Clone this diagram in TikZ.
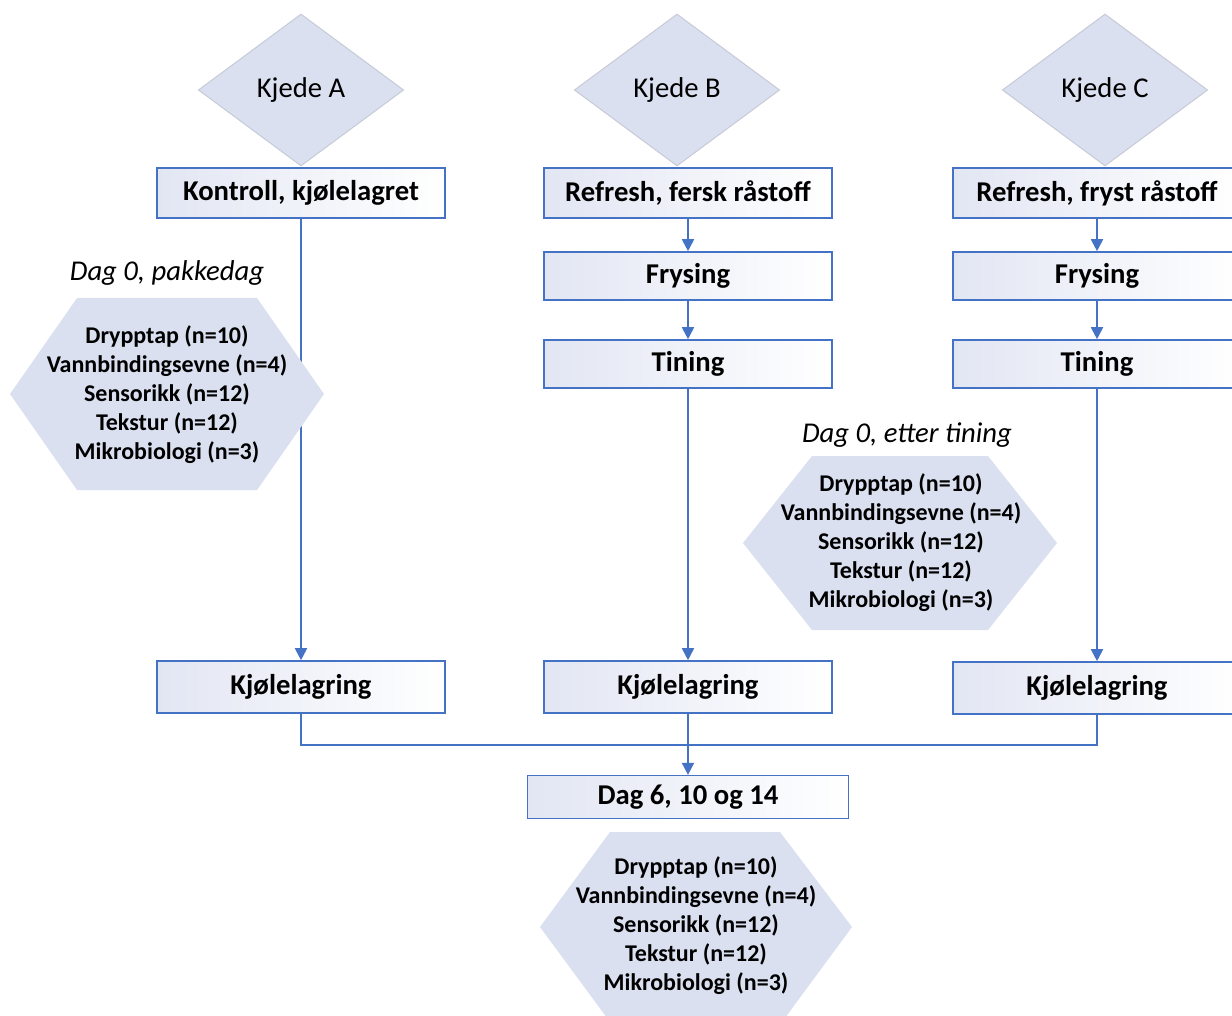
\documentclass[tikz,border=0pt]{standalone}
\usepackage{fontspec}
\setmainfont{Carlito}
\usepackage{tikz}
\usetikzlibrary{arrows.meta}
\usetikzlibrary{shapes.geometric}
\usetikzlibrary{positioning}
\definecolor{flowblue}{HTML}{4472C4}
\definecolor{lavender}{HTML}{DAE0F0}
\definecolor{boxshade}{HTML}{E2E6F3}
\definecolor{diagrey}{HTML}{C8CCD8}
\tikzset{
  % Filled triangle tips for the flow
  >={Triangle[length=9pt,width=9pt]},
  line/.style={draw=flowblue, line width=1.4pt, ->},
  link/.style={draw=flowblue, line width=1.4pt},
  hexfill/.style={fill=lavender}
}

\begin{document}
\begin{tikzpicture}[x=0.75pt, y=-0.75pt]
    % Define styles
    \tikzstyle{chain} = [diamond, draw=diagrey, line width=0.8pt, fill=lavender, minimum width=154pt, minimum height=114pt, inner sep=0pt, font=\fontsize{21.5}{26}\selectfont]
    \tikzstyle{block} = [rectangle, draw=flowblue, line width=1.2pt, left color=boxshade, right color=white, minimum width=216pt, minimum height=37.5pt, font=\fontsize{21.5}{26}\selectfont\bfseries]
    \tikzstyle{tests} = [align=center, inner sep=0pt, font=\fontsize{18}{21.75}\selectfont\bfseries]
    \tikzstyle{day} = [font=\fontsize{21.5}{26}\selectfont\itshape]

    \clip (0,0) rectangle (1232,1016);

    % Place nodes
    \node [chain] (kjedeA) at (301,90) {Kjede A};
    \node [chain] (kjedeB) at (677,90) {Kjede B};
    \node [chain] (kjedeC) at (1105,90) {Kjede C};

    \node [block] (kontroll) at (301,193) {Kontroll, kjølelagret};
    \node [block] (fersk) at (688,193) {Refresh, fersk råstoff};
    \node [block] (fryst) at (1097,193) {Refresh, fryst råstoff};
    \node [block, minimum height=36pt] (frysB) at (688,276) {Frysing};
    \node [block, minimum height=36pt] (frysC) at (1097,276) {Frysing};
    \node [block, minimum height=36pt] (tinB) at (688,364) {Tining};
    \node [block, minimum height=36pt] (tinC) at (1097,364) {Tining};
    \node [block, minimum height=39pt] (lagerA) at (301,687) {Kjølelagring};
    \node [block, minimum height=39pt] (lagerB) at (688,687) {Kjølelagring};
    \node [block, minimum height=39pt] (lagerC) at (1097,688) {Kjølelagring};
    \node [block, minimum width=241pt, minimum height=32pt] (dag) at (688,797) {Dag 6, 10 og 14};
    \coordinate (samle) at (688,745);

    % Draw edges
    \path [line] (kontroll) -- (lagerA);
    \path [line] (fersk) -- (frysB);
    \path [line] (frysB) -- (tinB);
    \path [line] (tinB) -- (lagerB);
    \path [line] (fryst) -- (frysC);
    \path [line] (frysC) -- (tinC);
    \path [line] (tinC) -- (lagerC);
    \path [link] (lagerA) |- (samle);
    \path [link] (lagerC) |- (samle);
    \path [line] (lagerB) -- (dag);

    % Measurements
    \node [day] (pakkedag) at (167,273) {Dag 0, pakkedag};
    \node [day] (etter) at (907,435) {Dag 0, etter tining};

    \fill [hexfill] (167,394) +(-157,0) -- +(-90,-96) -- +(90,-96) -- +(157,0) -- +(90,96) -- +(-90,96) -- cycle;
    \fill [hexfill] (900,543) +(-157,0) -- +(-88,-87) -- +(88,-87) -- +(157,0) -- +(88,87) -- +(-88,87) -- cycle;
    \fill [hexfill] (696,927) +(-156,0) -- +(-86,-95) -- +(84,-95) -- +(156,0) -- +(86,95) -- +(-86,95) -- cycle;

    \node [tests] (testA) at (167,395)
        {Drypptap (n=10)\\Vannbindingsevne (n=4)\\Sensorikk (n=12)\\Tekstur (n=12)\\Mikrobiologi (n=3)};
    \node [tests] (testB) at (901,543)
        {Drypptap (n=10)\\Vannbindingsevne (n=4)\\Sensorikk (n=12)\\Tekstur (n=12)\\Mikrobiologi (n=3)};
    \node [tests] (testC) at (696,926)
        {Drypptap (n=10)\\Vannbindingsevne (n=4)\\Sensorikk (n=12)\\Tekstur (n=12)\\Mikrobiologi (n=3)};
\end{tikzpicture}
\end{document}
